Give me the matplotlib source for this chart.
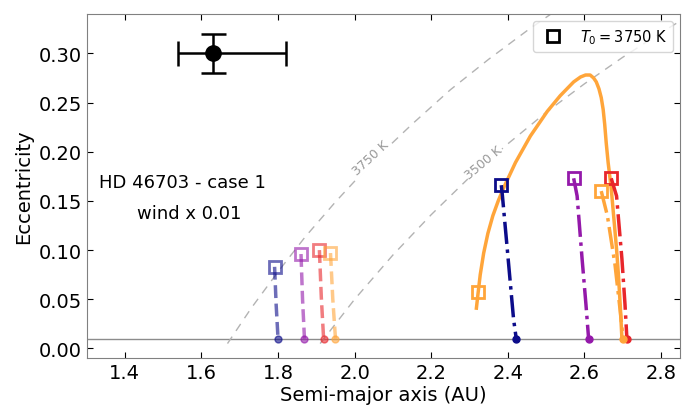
import numpy as np
import matplotlib
matplotlib.use('Agg')
import matplotlib.pyplot as plt
import matplotlib.ticker as ticker

# observed planet
obs_a = 1.631
obs_e = 0.30
obs_aerr = [[0.092], [0.19]]
obs_eerr = 0.02

# isotherms of periastron temperature
iso3750_a = [1.668, 1.73, 1.80, 1.87, 1.95, 2.05, 2.15, 2.25, 2.35, 2.45, 2.52]
iso3750_e = [0.005, 0.041, 0.078, 0.113, 0.149, 0.191, 0.228, 0.263, 0.294, 0.323, 0.342]
iso3500_a = [1.91, 2.0, 2.1, 2.2, 2.3, 2.4, 2.5, 2.6, 2.7, 2.8, 2.88]
iso3500_e = [0.005, 0.05, 0.095, 0.136, 0.174, 0.208, 0.240, 0.269, 0.296, 0.321, 0.340]

# left tracks (faded, dashed): start square -> end dot
left_a = [[1.791, 1.795, 1.800], [1.860, 1.864, 1.869],
          [1.908, 1.913, 1.919], [1.937, 1.943, 1.950]]
left_e = [[0.083, 0.045, 0.010], [0.096, 0.050, 0.010],
          [0.100, 0.052, 0.010], [0.097, 0.050, 0.010]]

# right tracks (dash-dot)
right_a = [[2.383, 2.386, 2.400, 2.415, 2.422],
           [2.572, 2.581, 2.594, 2.604, 2.611],
           [2.670, 2.684, 2.698, 2.706, 2.711],
           [2.644, 2.660, 2.680, 2.693, 2.701]]
right_e = [[0.166, 0.155, 0.095, 0.030, 0.010],
           [0.173, 0.155, 0.091, 0.045, 0.010],
           [0.173, 0.155, 0.091, 0.045, 0.010],
           [0.160, 0.135, 0.085, 0.040, 0.010]]

# orange solid track
curve_a = [2.318, 2.322, 2.328, 2.337, 2.348, 2.361, 2.375, 2.390, 2.420, 2.459,
           2.503, 2.537, 2.572, 2.590, 2.603, 2.615, 2.624, 2.631, 2.638, 2.644,
           2.649, 2.653, 2.657, 2.662, 2.670, 2.677, 2.684, 2.689, 2.694, 2.698]
curve_e = [0.041, 0.055, 0.075, 0.097, 0.117, 0.135, 0.150, 0.164, 0.189, 0.216,
           0.241, 0.257, 0.271, 0.276, 0.278, 0.278, 0.275, 0.271, 0.264, 0.255,
           0.243, 0.228, 0.209, 0.189, 0.163, 0.132, 0.101, 0.074, 0.041, 0.010]
curve_sq = (2.321, 0.057)

colors = ['#0c0c8a', '#9419aa', '#e8262b', '#ffa53a']

fig = plt.figure(figsize=(6.87, 4.06), dpi=100)
ax = fig.add_axes([0.126, 0.115, 0.864, 0.848])

ax.axhline(0.01, color='0.55', lw=1, zorder=1)

ax.plot(iso3750_a, iso3750_e, color='0.7', lw=1, dashes=(6, 5), zorder=1)
ax.plot(iso3500_a, iso3500_e, color='0.7', lw=1, dashes=(6, 5), zorder=1)
ax.text(2.042, 0.194, '3750 K', color='0.6', fontsize=9, rotation=43,
        ha='center', va='center', zorder=2,
        bbox=dict(facecolor='white', edgecolor='none', pad=0.5))
ax.text(2.337, 0.189, '3500 K', color='0.6', fontsize=9, rotation=40,
        ha='center', va='center', zorder=2,
        bbox=dict(facecolor='white', edgecolor='none', pad=0.5))

for a, e, c in zip(left_a, left_e, colors):
    ax.plot(a, e, '--', color=c, lw=2.5, alpha=0.6, zorder=3)
    ax.plot(a[0], e[0], 's', mfc='none', mec=c, mew=2, ms=9, alpha=0.6, zorder=4)
    ax.plot(a[-1], e[-1], 'o', color=c, ms=5, alpha=0.6, zorder=4)

ax.plot(curve_a, curve_e, '-', color=colors[3], lw=2.5, zorder=3,
        solid_joinstyle='round')
ax.plot(curve_sq[0], curve_sq[1], 's', mfc='none', mec=colors[3], mew=2, ms=9, zorder=4)

for a, e, c in zip(right_a, right_e, colors):
    ax.plot(a, e, '-.', color=c, lw=2.5, zorder=3)
    ax.plot(a[0], e[0], 's', mfc='none', mec=c, mew=2, ms=9, zorder=4)
    ax.plot(a[-1], e[-1], 'o', color=c, ms=5, zorder=4)

ax.errorbar(obs_a, obs_e, xerr=obs_aerr, yerr=obs_eerr, fmt='o', color='k',
            ms=11, lw=1.8, capsize=9, capthick=1.8, zorder=5)

ax.text(0.161, 0.512, 'HD 46703 - case 1', transform=ax.transAxes, fontsize=13,
        ha='center', va='center')
ax.text(0.173, 0.422, 'wind x 0.01', transform=ax.transAxes, fontsize=13,
        ha='center', va='center')

ax.plot([], [], 's', mfc='none', mec='k', mew=2, ms=8, label=r'$T_0 = 3750$ K')
ax.legend(loc='upper right', fontsize=10.5, framealpha=0.8)

ax.set_xlim(1.3, 2.85)
ax.set_ylim(-0.01, 0.34)
ax.xaxis.set_major_locator(ticker.MultipleLocator(0.2))
ax.yaxis.set_major_locator(ticker.MultipleLocator(0.05))
ax.yaxis.set_major_formatter(ticker.FormatStrFormatter('%.2f'))
ax.tick_params(direction='in', top=True, right=True, labelsize=14, length=4)
for s in ax.spines.values():
    s.set_color('0.5')
ax.set_xlabel('Semi-major axis (AU)', fontsize=14, labelpad=2)
ax.set_ylabel('Eccentricity', fontsize=14)

fig.savefig('out.png', dpi=100)
